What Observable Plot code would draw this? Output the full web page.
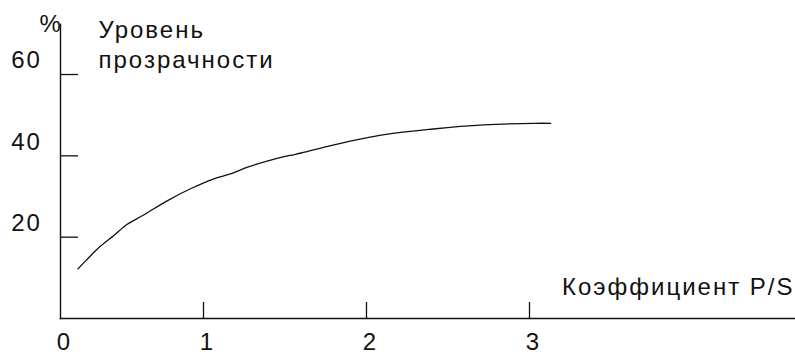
<!DOCTYPE html>
<html>
<head>
<meta charset="utf-8">
<script src="https://cdn.jsdelivr.net/npm/d3@7"></script>
<script src="https://cdn.jsdelivr.net/npm/@observablehq/plot@0.6"></script>
<style>
  html, body { margin: 0; padding: 0; background: #fff; }
</style>
</head>
<body>
<div id="chart"></div>
<script>
// Data
const ratioPS = [0.23, 0.28, 0.36, 0.45, 0.53, 0.63, 0.78, 0.92, 1.06, 1.17, 1.27, 1.39, 1.53, 1.60, 1.80, 2.11, 2.41, 2.72, 3.03, 3.13];
const transparency = [12.2, 14.3, 17.5, 20.4, 23.1, 25.4, 29.0, 31.9, 34.3, 35.6, 37.2, 38.7, 40.1, 40.7, 42.7, 45.2, 46.6, 47.6, 48.0, 48.0];

const xTickValues = [0, 1, 2, 3];
const xTickLabels = ["0", "1", "2", "3"];
const yTickValues = [20, 40, 60];
const yTickLabels = ["20", "40", "60"];

const yUnit = "%";
const yTitle = "Уровень\nпрозрачности";
const xTitle = "Коэффициент P/S";

const xDomain = [0.1227, 4.632];
const yDomain = [0, 72.3];

const points = ratioPS.map((x, i) => ({x, y: transparency[i]}));
const xLabels = xTickValues.map((v, i) => ({v, label: xTickLabels[i]}));
const yLabels = yTickValues.map((v, i) => ({v, label: yTickLabels[i]}));

const font = "Arial, 'Liberation Sans', sans-serif";
const ink = "#111";

const chart = Plot.plot({
  width: 795,
  height: 355,
  marginLeft: 60,
  marginRight: 0,
  marginTop: 24,
  marginBottom: 37,
  style: {fontFamily: font, fontSize: "24px", color: ink, background: "#fff", letterSpacing: "2px"},
  x: {domain: xDomain, clamp: true, axis: null},
  y: {domain: yDomain, axis: null},
  marks: [
    Plot.frame({anchor: "left", stroke: ink, strokeWidth: 1.4}),
    Plot.frame({anchor: "bottom", stroke: ink, strokeWidth: 1.4}),
    Plot.axisX(xTickValues.filter(v => v > 0), {tickSize: -16, tickFormat: () => "", stroke: ink, strokeWidth: 1.3, label: null}),
    Plot.axisY(yTickValues, {tickSize: -18, tickFormat: () => "", stroke: ink, strokeWidth: 1.3, label: null}),
    Plot.line(points, {x: "x", y: "y", stroke: ink, strokeWidth: 1.3, curve: "catmull-rom"}),
    Plot.text(xLabels, {x: "v", y: () => 0, text: "label", dx: 4, dy: 24, fontSize: 24, fill: ink, lineAnchor: "middle"}),
    Plot.text(yLabels, {x: () => xDomain[0], y: "v", text: "label", dx: -34, dy: -14, fontSize: 24, fill: ink, lineAnchor: "middle"}),
    Plot.text([yUnit], {frameAnchor: "top-left", dx: -21, dy: 0, fontSize: 24, fill: ink, lineAnchor: "middle"}),
    Plot.text([yTitle], {frameAnchor: "top-left", dx: 38, dy: -8, fontSize: 24, fill: ink, textAnchor: "start", lineAnchor: "top", lineHeight: 1.25}),
    Plot.text([xTitle], {frameAnchor: "bottom-right", dx: -1, dy: -31, fontSize: 24, fill: ink, textAnchor: "end", lineAnchor: "middle"})
  ]
});
document.getElementById("chart").appendChild(chart);
</script>
</body>
</html>
